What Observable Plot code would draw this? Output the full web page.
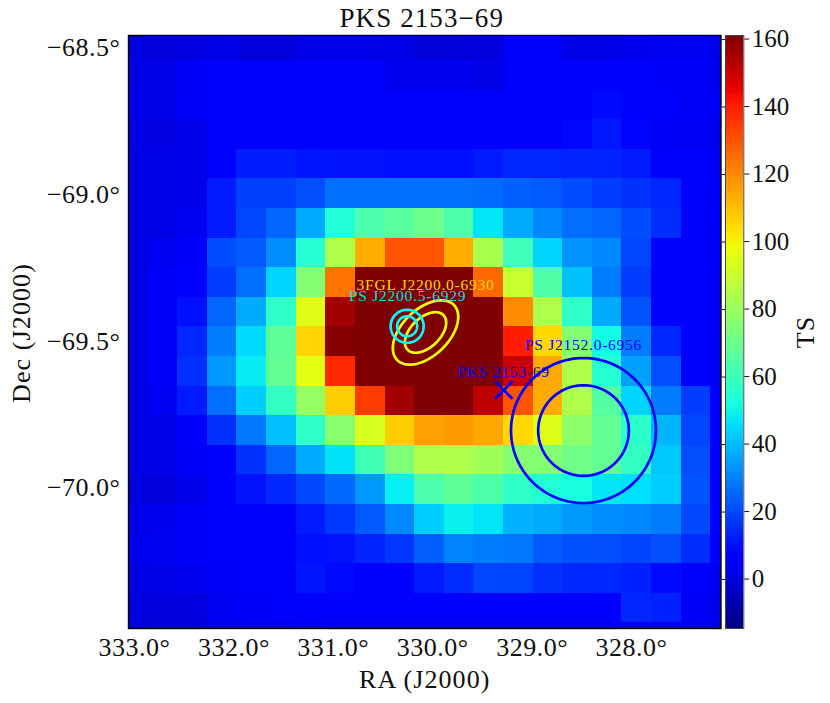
<!DOCTYPE html>
<html><head><meta charset="utf-8">
<script src="https://cdn.jsdelivr.net/npm/d3@7"></script>
<script src="https://cdn.jsdelivr.net/npm/@observablehq/plot@0.6"></script>
<style>
html,body{margin:0;padding:0;background:#fff}
#chart{position:relative;width:830px;height:703px;overflow:hidden}
#chart svg{position:absolute;top:0;background:transparent;font-family:"Liberation Serif",serif}
.srclabel text{letter-spacing:.75px}
.biglabel text{letter-spacing:1.1px}
.ticklabel text{letter-spacing:.5px}
</style></head><body><div id="chart"></div>
<script>
const titleText = "PKS 2153\u221269";
const raTicks = [333,332,331,330,329,328];
const decTicks = [-68.5,-69,-69.5,-70];
const tsTicks = [0,20,40,60,80,100,120,140,160];
const raDomain = [333.06,327.10];
const decDomain = [-70.478,-68.456];
const tsDomain = [-14.5,161.2];
const raFirstEdge = 332.863, raStep = 0.2979;
const decFirstEdge = -68.541, decStep = 0.10093;

const tsRows = [
[0,0,0.5,1,0,0,1.5,2,1.5,1,-1,-1,0,4.8,4.8,1,1,2.5,3,3,1],
[1,1,4,5,5,5,5,5,5,2.5,2.5,2.5,1.5,5,5,5,5,4.8,4.5,4.5,2],
[1.5,1.5,4,6,6,6,6,6,6,6,6,6,6,6,6,6,9,6,5,4,3],
[0.5,0.5,2,5.5,6,6,6,6,6,6,6,6,6,6.5,7,8.5,11.5,8,4,3.5,2],
[1,1,2,6,12.5,12.5,11,10.5,10.5,10,10,10,12,14,14,13.5,13.5,12,6,5,3],
[1,1,2,12,18.5,18.5,21,27,27,27,27,27,26,24,23,20.5,18,16,14,6,4],
[1,1,3,12,19.5,25,37,54,63,66,70,63.5,47,37,31,26.5,25,20.5,15,6,4],
[1,3,5.5,20.5,23,32,55,84,113.5,129.5,129.5,113.5,83,60,44,33,31,19.5,7,5,4],
[1.2,4,6,18,26.5,44,75,124,165,165,165,165,126,90,64,41,29,18,7,5,3],
[1,4,10,25,37,57,95,156,165,165,165,165,165,119.5,84,57,37,22,7,5,3],
[1,4,14,29,45,67,106,160,165,165,165,165,165,140,105,75,51,29,14,6,3],
[1,4,15.5,33.5,48,68,96,138,165,165,165,165,165,150,114,84,55,35,21,6,3],
[1,3,12,26.5,43,58,79,107,134,156,165,165,152,130,113.5,84,65,44,29,18,5],
[1.2,1.2,5.5,16,28,40.5,57,76,93,107,115.5,117,114,105,95,77,68,56,39,19.5,6],
[1,1,4,6,16,25,37,46.5,60.5,74,84,84,81,75.5,75,71,68,58,42,21,7],
[0,0,2,5.5,10.5,14,20,25.5,34,48.5,63,67,63.5,57,54,52,47,46,43,22,6],
[1.5,2.5,4,5.5,6,7.5,12,17,23,31,43,49,47,38,37,34,32,31,29,20,6],
[2.5,3,4,5.5,5.5,5.5,10,10.5,13.5,17,24,30,29,28,23,21.5,21,19,21,15,6],
[1.2,1.5,2.5,4,5,5,11,9,6.5,7,12,15,19.5,19,16,14.5,14,13,9,6,2.5],
[0,0,0,3,4,5,5.5,5.5,5,5,5.5,5,5,5,5,5,5,14,13,4,1],
[-1,-1,-1,1,1,1,3,2,2,2,2,2,2,2,2,2,2,3,3,1,-1]
];

const srcRings = [
  {ra:330.072,dec:-69.4686,a:0.1347,b:0.0794,pa:44,color:"#ffff00"},
  {ra:330.072,dec:-69.4686,a:0.0849,b:0.0501,pa:44,color:"#ffff00"},
  {ra:330.257,dec:-69.4475,a:0.0563,b:0.0563,pa:0,color:"#00ffff"},
  {ra:330.257,dec:-69.4475,a:0.0341,b:0.0341,pa:0,color:"#00ffff"},
  {ra:328.483,dec:-69.803,a:0.2472,b:0.2472,pa:0,color:"#0000ff"},
  {ra:328.483,dec:-69.803,a:0.1545,b:0.1545,pa:0,color:"#0000ff"}
];
const srcLabels = [
  {ra:330.072,dec:-69.308,text:"3FGL J2200.0-6930",color:"#ffd800"},
  {ra:330.253,dec:-69.346,text:"PS J2200.5-6929",color:"#00e0e0"},
  {ra:328.483,dec:-69.510,text:"PS J2152.0-6956",color:"#0000ff"},
  {ra:329.287,dec:-69.605,text:"PKS 2153-69",color:"#0000ff"}
];
const pksMarker = [{ra:329.285,dec:-69.665}];

const jetStops = [[0,"rgb(0,0,127)"],[.11,"rgb(0,0,255)"],[.125,"rgb(0,0,255)"],[.34,"rgb(0,219,255)"],[.35,"rgb(0,230,247)"],[.375,"rgb(21,255,226)"],[.64,"rgb(238,255,8)"],[.65,"rgb(247,245,0)"],[.66,"rgb(255,236,0)"],[.89,"rgb(255,19,0)"],[.91,"rgb(232,0,0)"],[1,"rgb(127,0,0)"]];
const colorScale = {
  type:"linear", clamp:true,
  domain: jetStops.map(d=>tsDomain[0]+d[0]*(tsDomain[1]-tsDomain[0])),
  range: jetStops.map(d=>d[1])
};

const cells = [];
tsRows.forEach((row,r)=>row.forEach((ts,c)=>{
  cells.push({
    ra1: c===0 ? raDomain[0] : raFirstEdge-(c-1)*raStep,
    ra2: c===20 ? raDomain[1] : raFirstEdge-c*raStep,
    dec1: r===0 ? decDomain[1] : decFirstEdge-(r-1)*decStep,
    dec2: r===20 ? decDomain[0] : decFirstEdge-r*decStep,
    ts
  });
}));

const ringPts = [];
const pxRatio = 293.3/99.4;
srcRings.forEach((s,i)=>{
  const th = s.pa*Math.PI/180;
  d3.range(0,361,3).forEach(deg=>{
    const u = deg*Math.PI/180;
    const dx = s.a*Math.cos(u)*Math.cos(th)-s.b*Math.sin(u)*Math.sin(th);
    const dy = s.a*Math.cos(u)*Math.sin(th)+s.b*Math.sin(u)*Math.cos(th);
    ringPts.push({id:i,color:s.color,ra:s.ra-dx*pxRatio,dec:s.dec+dy});
  });
});

const deg1 = d3.format(".1f");
const main = Plot.plot({
  width:722,height:703,marginLeft:128,marginRight:1.5,marginTop:35,marginBottom:75,
  style:{fontFamily:'"Liberation Serif",serif',fontSize:"26px",color:"#111",background:"transparent",overflow:"visible"},
  x:{domain:raDomain},
  y:{domain:decDomain},
  color:colorScale,
  marks:[
    Plot.rect(cells,{x1:"ra1",x2:"ra2",y1:"dec1",y2:"dec2",fill:"ts",shapeRendering:"crispEdges"}),
    Plot.line(ringPts,{x:"ra",y:"dec",z:"id",stroke:d=>d.color,strokeWidth:2.7,curve:"linear"}),
    Plot.dot(pksMarker,{x:"ra",y:"dec",symbol:"times",r:8,stroke:"#0000ff",strokeWidth:2.7}),
    Plot.text(srcLabels,{x:"ra",y:"dec",text:"text",fill:d=>d.color,fontSize:15.5,textAnchor:"middle",className:"srclabel"}),
    Plot.frame({stroke:"#000",strokeWidth:1.4}),
    Plot.axisX({ticks:raTicks,tickSize:0,tickPadding:9,tickFormat:d=>deg1(d)+"\u00b0",fontSize:26,label:null,className:"ticklabel"}),
    Plot.axisY({ticks:decTicks,tickSize:0,tickPadding:8,dy:-0.5,tickFormat:d=>deg1(d)+"\u00b0",fontSize:26,label:null,className:"ticklabel"}),
    Plot.text([titleText],{frameAnchor:"top",dx:-3,dy:-28,fontSize:27,fill:"#111",textAnchor:"middle",lineAnchor:"top",className:"biglabel"}),
    Plot.text(["RA (J2000)"],{frameAnchor:"bottom",dy:51,fontSize:26,fill:"#111",textAnchor:"middle",lineAnchor:"middle",className:"biglabel"}),
    Plot.text(["Dec (J2000)"],{frameAnchor:"left",dx:-107,dy:1,rotate:-90,fontSize:26,fill:"#111",textAnchor:"middle",lineAnchor:"middle",className:"biglabel"})
  ]
});
main.style.left="0px";

const barLevels = d3.range(256).map(i=>({
  lo:tsDomain[0]+i/256*(tsDomain[1]-tsDomain[0]),
  hi:tsDomain[0]+(i+1)/256*(tsDomain[1]-tsDomain[0])
}));
const bar = Plot.plot({
  width:130,height:703,marginLeft:25,marginRight:86.7,marginTop:35,marginBottom:75,
  style:{fontFamily:'"Liberation Serif",serif',fontSize:"25px",color:"#111",background:"transparent",overflow:"visible"},
  x:{domain:[0,1],axis:null},
  y:{domain:tsDomain},
  color:colorScale,
  marks:[
    Plot.rect(barLevels,{x1:0,x2:1,y1:"lo",y2:"hi",fill:d=>(d.lo+d.hi)/2,shapeRendering:"crispEdges"}),
    Plot.frame({stroke:"#444",strokeWidth:1}),
    Plot.axisY({ticks:tsTicks,anchor:"left",tickSize:3,tickFormat:()=>"",label:null}),
    Plot.axisY({ticks:tsTicks,anchor:"right",tickSize:5,tickPadding:3,dy:-0.5,fontSize:25,label:null}),
    Plot.text(["TS"],{frameAnchor:"right",dx:62,rotate:-90,fontSize:26,fill:"#111",textAnchor:"middle",lineAnchor:"middle",className:"biglabel"})
  ]
});
bar.style.left="700px";

const host=document.getElementById("chart");
host.appendChild(main);
host.appendChild(bar);
</script></body></html>
